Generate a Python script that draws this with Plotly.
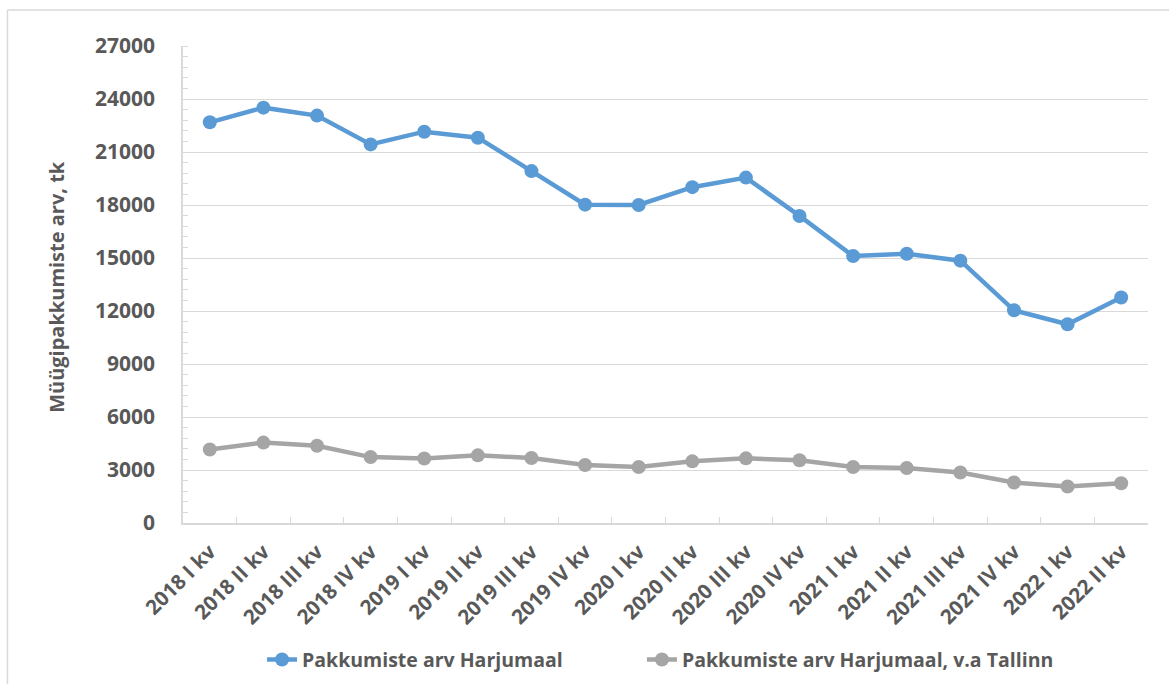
import plotly.graph_objects as go

quarters = [
    "2018 I kv", "2018 II kv", "2018 III kv", "2018 IV kv",
    "2019 I kv", "2019 II kv", "2019 III kv", "2019 IV kv",
    "2020 I kv", "2020 II kv", "2020 III kv", "2020 IV kv",
    "2021 I kv", "2021 II kv", "2021 III kv", "2021 IV kv",
    "2022 I kv", "2022 II kv",
]
harjumaa = [22680, 23510, 23060, 21430, 22150, 21810, 19920, 18020, 18000,
            19010, 19550, 17380, 15110, 15240, 14850, 12040, 11250, 12760]
harjumaa_ex_tallinn = [4160, 4550, 4370, 3730, 3650, 3830, 3680, 3280, 3170,
                       3490, 3660, 3550, 3170, 3110, 2860, 2290, 2070, 2250]
y_ticks = [0, 3000, 6000, 9000, 12000, 15000, 18000, 21000, 24000, 27000]

BLUE = "#5B9BD5"
GREY = "#A5A5A5"
TEXT = "#595959"
GRID = "#D9D9D9"
FONT = "Open Sans"

legend_font = dict(family=FONT, size=19.5, color=TEXT, weight="bold")

fig = go.Figure()
fig.add_trace(go.Scatter(
    x=quarters, y=harjumaa, mode="lines+markers",
    name="Pakkumiste arv Harjumaal",
    line=dict(color=BLUE, width=4.5),
    marker=dict(color=BLUE, size=14),
    legend="legend",
))
fig.add_trace(go.Scatter(
    x=quarters, y=harjumaa_ex_tallinn, mode="lines+markers",
    name="Pakkumiste arv Harjumaal, v.a Tallinn",
    line=dict(color=GREY, width=4.5),
    marker=dict(color=GREY, size=14),
    legend="legend2",
))

fig.update_layout(
    width=1169, height=684,
    margin=dict(l=183, r=21, t=46, b=161, autoexpand=False),
    paper_bgcolor="white", plot_bgcolor="white",
    font=dict(family=FONT, color=TEXT, size=19),
    showlegend=True,
    legend=dict(
        orientation="h", x=0.0819, xanchor="left", y=-0.287, yanchor="middle",
        font=legend_font,
    ),
    legend2=dict(
        orientation="h", x=0.4756, xanchor="left", y=-0.287, yanchor="middle",
        font=legend_font,
    ),
    xaxis=dict(
        type="category", range=[-0.5, len(quarters) - 0.5],
        tickangle=-45, tickson="boundaries",
        ticks="inside", ticklen=6, tickcolor=GRID,
        showline=True, linecolor=GRID, linewidth=1.5,
        showgrid=False, automargin=False, ticklabelstandoff=7,
        tickfont=dict(family=FONT, size=20.5, color=TEXT, weight="bold"),
    ),
    yaxis=dict(
        range=[0, 27000], tickvals=y_ticks,
        ticktext=[str(v) for v in y_ticks],
        showgrid=True, gridcolor=GRID, gridwidth=1.3,
        zeroline=False, automargin=False,
        showline=True, linecolor=GRID, linewidth=1.5,
        ticks="", ticklabelstandoff=22,
        minor=dict(dtick=600, ticks="inside", ticklen=5, tickcolor=GRID, showgrid=False),
        tickfont=dict(family=FONT, size=21, color=TEXT, weight="bold"),
    ),
    annotations=[dict(
        text="Müügipakkumiste arv, tk", textangle=-90,
        xref="paper", yref="paper", x=-0.1306, y=0.495,
        xanchor="center", yanchor="middle", showarrow=False,
        font=dict(family=FONT, size=20, color=TEXT, weight="bold"),
    )],
    shapes=[
        dict(type="line", xref="paper", yref="paper",
             x0=-0.1819, x1=1.05, y0=1.0755, y1=1.0755,
             line=dict(color=GRID, width=1.5)),
        dict(type="line", xref="paper", yref="paper",
             x0=-0.1819, x1=-0.1819, y0=1.0755, y1=-0.4,
             line=dict(color=GRID, width=1.5)),
    ],
)

fig.write_html("out.html")
